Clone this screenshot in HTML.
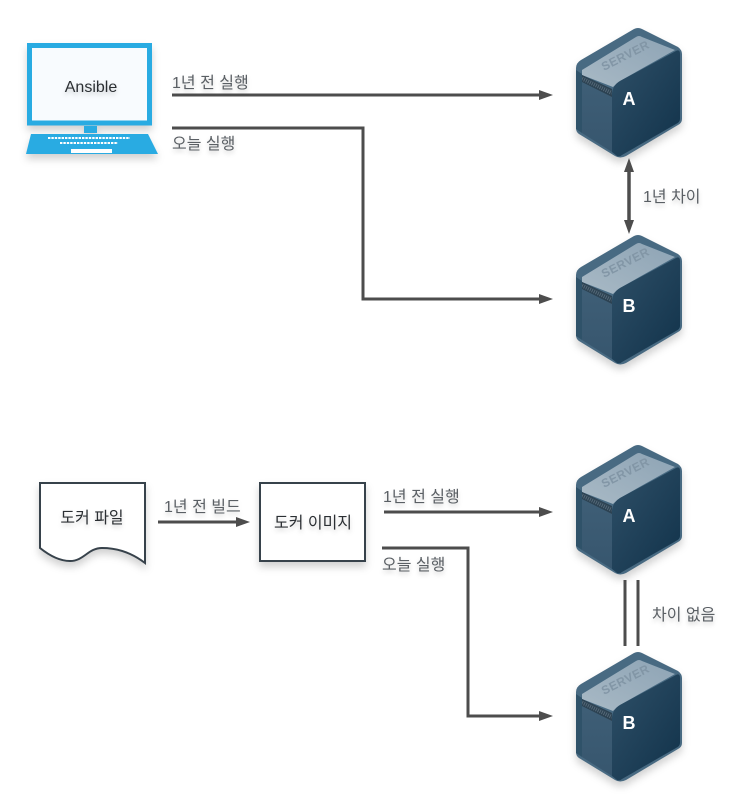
<!DOCTYPE html>
<html><head><meta charset="utf-8">
<style>
html,body{margin:0;padding:0;background:#fff;width:750px;height:808px;overflow:hidden}
svg{display:block}
text{font-family:"Liberation Sans","Noto Sans CJK KR",sans-serif;font-size:16px;fill:#5a5f64}
.t{filter:drop-shadow(0 3px 2px rgba(0,0,0,.18))}
.d{fill:#2b2f33}
.w{fill:#fff;font-weight:bold;font-size:18px}
.l{fill:none;stroke:#4d4d4d;stroke-width:3}
.h{fill:#4d4d4d}
.sh{filter:drop-shadow(0 5px 4px rgba(0,0,0,.18))}
</style></head><body>
<svg width="750" height="808" viewBox="0 0 750 808" xmlns="http://www.w3.org/2000/svg">
<defs>
<linearGradient id="fr" x1="0" y1="0" x2="1" y2="1"><stop offset="0" stop-color="#2f5068"/><stop offset="1" stop-color="#11324a"/></linearGradient>
<linearGradient id="tp" x1="0" y1="1" x2="1" y2="0"><stop offset="0" stop-color="#a8b9c5"/><stop offset="1" stop-color="#8ea4b5"/></linearGradient>
<linearGradient id="lf" x1="0" y1="0" x2="0" y2="1"><stop offset="0" stop-color="#3f5f77"/><stop offset="1" stop-color="#37566e"/></linearGradient>
<g id="srv">
<path class="sh" d="M0 41 Q0 36 5 33 L58 2 Q62 0 66 2 L102 20 Q106 23 106 27 V92 Q106 96 102 98 L50 129 Q44 132 39 129 L3 107 Q0 105 0 101 Z" fill="#486a82"/>
<path d="M6 43 L60 10 Q63 8 66 10 L99 23 L44 54 Q40 57 37 60 L6 48 Z" fill="url(#tp)"/>
<path d="M6 48 L36 62 V125 L6 106 Z" fill="url(#lf)"/>
<path d="M6 48 L36 62 V70 L6 55 Z" fill="#2c4252"/>
<path d="M6 51.5 L36 66" fill="none" stroke="#8a9aa6" stroke-width="4" stroke-dasharray="1 1.2" opacity=".45"/>
<path d="M0 43 L6 47 V106 L0 102 Z" fill="#2f5269"/>
<path d="M36 66 Q37 58 44 54 L100 24 Q104 22 104 27 V92 Q104 95 100 97 L46 128 Q44 130 41 129 L36 125 Z" fill="url(#fr)"/>
<text x="0" y="0" transform="translate(28 44) rotate(-27)" style="font-weight:bold;font-size:12px;letter-spacing:.5px;fill:#8296a6">SERVER</text>
</g>
</defs>

<!-- Top section -->
<g class="sh">
<path d="M29.5 45.5 H149.5 V123 H29.5 Z" fill="#f8fbfe" stroke="#29abe2" stroke-width="5"/>
<rect x="84" y="126" width="13" height="7" fill="#29abe2"/>
<path d="M31 134 H148 L158 154 H26 Z" fill="#29abe2"/>
</g>
<g fill="none" stroke="#fff" stroke-width="2" stroke-dasharray="2.4 1">
<path d="M48 138 H130"/>
<path d="M60 143 H118"/>
</g>
<rect x="71" y="149" width="41" height="4" fill="#fff"/>
<text x="91" y="92" class="d t" text-anchor="middle">Ansible</text>

<path class="l" d="M172 95 H539"/><path class="h" d="M539 90 L553 95 L539 100 Z"/>
<path class="l" d="M172 128 H363 V299 H539"/><path class="h" d="M539 294 L553 299 L539 304 Z"/>
<text class="t" x="172" y="88">1년 전 실행</text>
<text class="t" x="172" y="149">오늘 실행</text>

<use href="#srv" x="576" y="27"/>
<text x="629" y="105" class="w" text-anchor="middle">A</text>
<use href="#srv" x="576" y="234"/>
<text x="629" y="312" class="w" text-anchor="middle">B</text>

<path d="M629 170 V222" fill="none" stroke="#4d4d4d" stroke-width="3.5"/>
<path class="h" d="M624 172 L629 158 L634 172 Z"/>
<path class="h" d="M624 220 L629 234 L634 220 Z"/>
<text class="t" x="643" y="202">1년 차이</text>

<!-- Bottom section -->
<path class="sh" d="M40 483 H145 V563 C132 553 118 548 102 548 C88 548 84 561 70 561 C60 561 50 556 40 548 Z" fill="#fff" stroke="#37424b" stroke-width="2"/>
<text x="92" y="523" class="d t" text-anchor="middle">도커 파일</text>
<path class="l" d="M158 522 H236"/><path class="h" d="M236 517 L250 522 L236 527 Z"/>
<text class="t" x="164" y="512">1년 전 빌드</text>
<rect class="sh" x="260" y="483" width="105" height="78" fill="#fff" stroke="#37424b" stroke-width="2"/>
<text x="313" y="528" class="d t" text-anchor="middle">도커 이미지</text>

<path class="l" d="M384 512 H539"/><path class="h" d="M539 507 L553 512 L539 517 Z"/>
<path class="l" d="M382 548 H468 V716 H539"/><path class="h" d="M539 711 L553 716 L539 721 Z"/>
<text class="t" x="383" y="502">1년 전 실행</text>
<text class="t" x="382" y="570">오늘 실행</text>

<use href="#srv" x="576" y="444"/>
<text x="629" y="522" class="w" text-anchor="middle">A</text>
<use href="#srv" x="576" y="651"/>
<text x="629" y="729" class="w" text-anchor="middle">B</text>

<path class="l" d="M625 580 V646 M638 580 V646"/>
<text class="t" x="652" y="620">차이 없음</text>
</svg>
</body></html>
